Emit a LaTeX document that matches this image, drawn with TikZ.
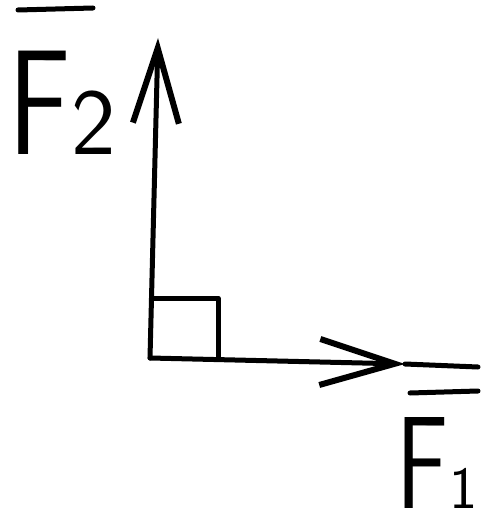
\documentclass[tikz,border=0pt]{standalone}
\usetikzlibrary{arrows.meta}
\tikzset{
  stroke/.style={line width=5bp, line cap=round, line join=round},
  vecarrow/.style={stroke, -{Straight Barb[length=75bp, width=46bp, line width=6bp]}},
  lbl/.style={inner sep=0pt, outer sep=0pt, anchor=base west, font=\sffamily},
}
\begin{document}
\begin{tikzpicture}[x=1bp, y=-1bp]
  \useasboundingbox (0,0) rectangle (485,527);
  % points
  \coordinate (O) at (150,358);
  \coordinate (ytop) at (158,38);
  \coordinate (xmid) at (405,364);
  \coordinate (xend) at (478,367);
  \coordinate (sqa) at (150,298);
  \coordinate (sqb) at (218,298);
  \coordinate (sqc) at (218,361);
  % vectors
  \draw[vecarrow] (O) -- (ytop);
  \draw[vecarrow] (O) -- (xmid);
  \draw[stroke] (xmid) -- (xend);
  % right angle mark
  \draw[stroke, line cap=butt] (sqa) -- (sqb) -- (sqc);
  % labels
  \node[lbl] (f2) at (8,155) {\raisebox{0pt}[\height][0pt]{\fontsize{150}{150}\selectfont\scalebox{0.78}[1]{F}\kern1bp\fontsize{95}{95}\selectfont 2}};
  \node[lbl] (f1) at (396,508) {\raisebox{0pt}[\height][0pt]{\fontsize{132}{132}\selectfont\scalebox{0.74}[1]{F}\kern1bp\fontsize{60}{60}\selectfont 1}};
  \coordinate (o2a) at (18,10);
  \coordinate (o2b) at (93,8);
  \coordinate (o1a) at (410,393);
  \coordinate (o1b) at (478,391);
  \draw[stroke] (o2a) -- (o2b);
  \draw[stroke] (o1a) -- (o1b);
\end{tikzpicture}
\end{document}
